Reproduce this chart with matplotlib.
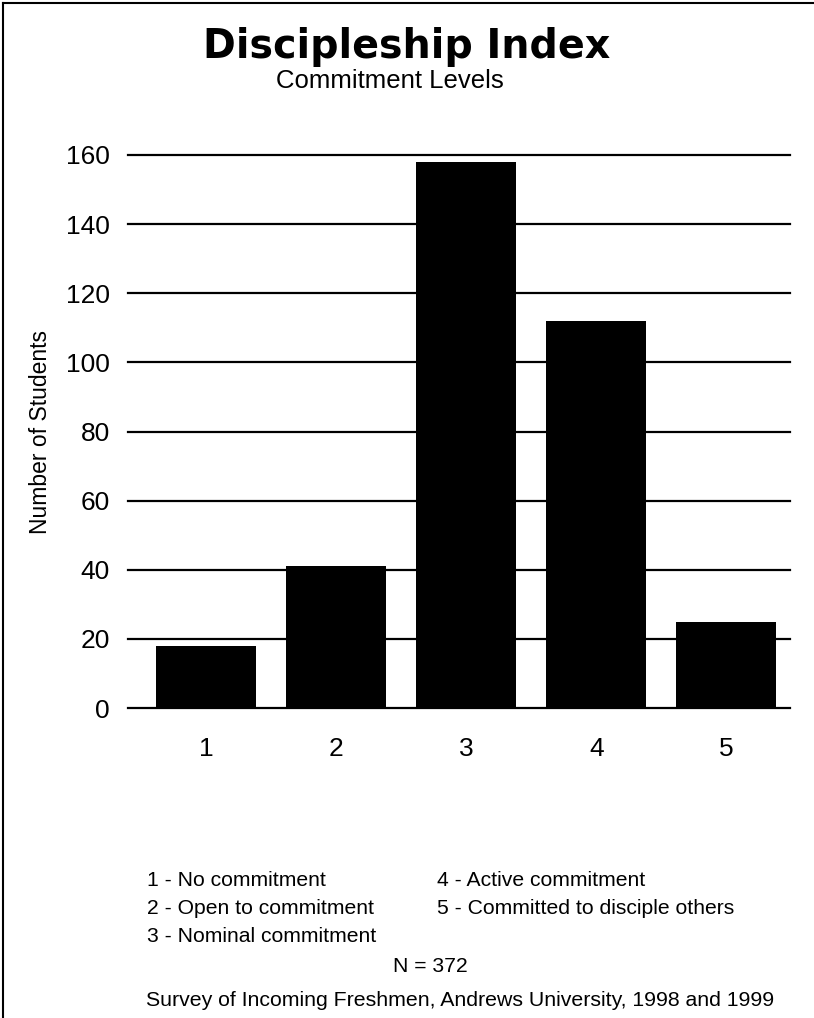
import matplotlib
matplotlib.use("Agg")
import matplotlib.pyplot as plt
from matplotlib.lines import Line2D

# Commitment level counts
levels = [1, 2, 3, 4, 5]
students = [18, 41, 158, 112, 25]
y_ticks = [0, 20, 40, 60, 80, 100, 120, 140, 160]

level_names = [
    "1 - No commitment",
    "2 - Open to commitment",
    "3 - Nominal commitment",
    "4 - Active commitment",
    "5 - Committed to disciple others",
]

plt.rcParams["font.family"] = ["Liberation Sans", "DejaVu Sans"]

fig = plt.figure(figsize=(8.14, 10.18), dpi=100)
W, H = 814, 1018

def fx(px):
    return px / W

def fy(py):
    return 1 - py / H

ax = fig.add_axes([fx(128), fy(708), fx(790) - fx(128), fy(155) - fy(708)])
ax.bar(levels, students, width=0.77, color="black", zorder=3)
ax.set_xlim(0.4, 5.49)
ax.set_ylim(0, 160)
ax.set_yticks(y_ticks)
ax.set_xticks(levels)
ax.tick_params(axis="both", length=0, labelsize=19)
ax.tick_params(axis="y", pad=13)
ax.tick_params(axis="x", pad=21)
for s in ax.spines.values():
    s.set_visible(False)
for t in y_ticks:
    ax.axhline(t, color="black", lw=1.6, zorder=2, clip_on=False)
ax.set_ylabel("Number of Students", fontsize=16.5, labelpad=10)

# Titles
fig.text(0.5, fy(47), "Discipleship Index", ha="center", va="center",
         fontsize=28.5, fontweight="heavy", family=["DejaVu Sans"])
fig.text(fx(390), fy(81), "Commitment Levels", ha="center", va="center", fontsize=18.5)

# Key to the levels
rows = [880, 908, 936]
for i, name in enumerate(level_names[:3]):
    fig.text(fx(147), fy(rows[i]), name, ha="left", va="center", fontsize=15.2)
for i, name in enumerate(level_names[3:]):
    fig.text(fx(437), fy(rows[i]), name, ha="left", va="center", fontsize=15.2)

fig.text(fx(430), fy(966), "N = 372", ha="center", va="center", fontsize=15.2)
fig.text(fx(460), fy(1001), "Survey of Incoming Freshmen, Andrews University, 1998 and 1999",
         ha="center", va="center", fontsize=15.3)

# Frame along top and left edges
fig.add_artist(Line2D([fx(3), fx(3)], [fy(3), 0], color="black", lw=1.5))
fig.add_artist(Line2D([fx(3), 1], [fy(3), fy(3)], color="black", lw=1.5))

fig.savefig("out.png", dpi=100, facecolor="white")
